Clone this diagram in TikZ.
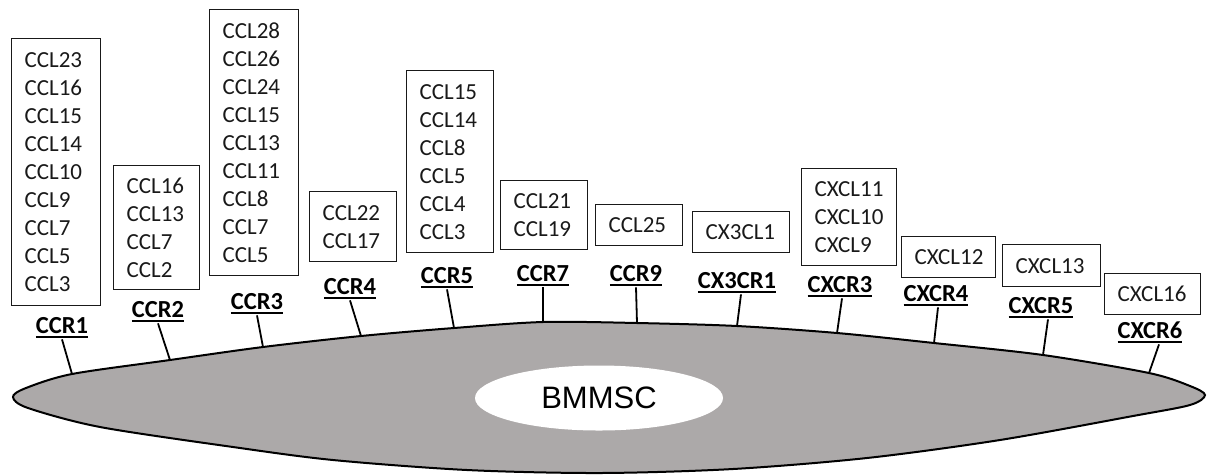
\documentclass[tikz,border=0pt]{standalone}
\usepackage{fontspec}
\setmainfont{Carlito}
\newfontfamily\cellfont{Liberation Sans}
\usetikzlibrary{shapes.geometric}
\definecolor{cellgray}{RGB}{172,169,169}
\newcommand{\recname}[1]{\vtop{\hbox{\bfseries #1}\kern3pt\hrule height 2pt}}
\begin{document}
\begin{tikzpicture}[x=1pt,y=-1pt]
\tikzstyle{ligand} = [draw=black!90, line width=1.3pt, anchor=north west, align=left, inner xsep=13pt, inner ysep=0pt, text=black!90, font=\fontsize{23}{28}\selectfont];
\tikzstyle{receptor} = [anchor=base, inner sep=1pt, font=\fontsize{24.5}{28}\selectfont];
\tikzstyle{stalk} = [line width=1.8pt];
\useasboundingbox (0,0) rectangle (1214,475);
% points on the membrane
\coordinate (m1) at (72,374);
\coordinate (m2) at (170,360);
\coordinate (m3) at (263,347);
\coordinate (m4) at (361,336);
\coordinate (m5) at (454,328);
\coordinate (m7) at (543,322);
\coordinate (m9) at (637,323);
\coordinate (mx3) at (737,326);
\coordinate (mx3b) at (837,333);
\coordinate (mx4) at (934,343);
\coordinate (mx5) at (1043,355);
\coordinate (mx6) at (1149,373);
% cell
\draw[line width=2pt, fill=cellgray] plot[smooth cycle, tension=0.5] coordinates {(13,397) (26,388) (m1) (m2) (m3) (m4) (m5) (m7) (m9) (mx3) (mx3b) (mx4) (mx5) (mx6) (1190,386) (1205,395) (1190,405) (1133,416) (1000,440) (867,458) (733,469) (600,473) (467,470) (333,460) (233,447) (100,427) (28,408)};
\node[ellipse, fill=white, inner sep=0pt, minimum width=248pt, minimum height=65pt, font=\cellfont\fontsize{31}{31}\selectfont] (core) at (599,398) {BMMSC};
% ligand boxes
\node[ligand, text width=63pt, minimum height=267pt] (ccr1lig) at (11,38) {CCL23\\CCL16\\CCL15\\CCL14\\CCL10\\CCL9\\CCL7\\CCL5\\CCL3};
\node[ligand, text width=60pt, minimum height=124pt] (ccr2lig) at (113,165) {CCL16\\CCL13\\CCL7\\CCL2};
\node[ligand, text width=63pt, minimum height=266pt] (ccr3lig) at (209,9) {CCL28\\CCL26\\CCL24\\CCL15\\CCL13\\CCL11\\CCL8\\CCL7\\CCL5};
\node[ligand, text width=61pt, minimum height=70pt] (ccr4lig) at (309,191) {CCL22\\CCL17};
\node[ligand, text width=61pt, minimum height=182pt] (ccr5lig) at (406,70) {CCL15\\CCL14\\CCL8\\CCL5\\CCL4\\CCL3};
\node[ligand, text width=61pt, minimum height=69pt] (ccr7lig) at (500,180) {CCL21\\CCL19};
\node[ligand, text width=61pt, minimum height=41pt] (ccr9lig) at (595,204) {CCL25};
\node[ligand, text width=71pt, minimum height=41pt] (cx3cr1lig) at (692,211) {CX3CL1};
\node[ligand, text width=69pt, minimum height=97pt] (cxcr3lig) at (801,168) {CXCL11\\CXCL10\\CXCL9};
\node[ligand, text width=68pt, minimum height=41pt] (cxcr4lig) at (901,236) {CXCL12};
\node[ligand, text width=72pt, minimum height=42pt] (cxcr5lig) at (1002,244) {CXCL13};
\node[ligand, text width=70pt, minimum height=41pt] (cxcr6lig) at (1104,273) {CXCL16};
% receptors
\node[receptor] (ccr1) at (62,333) {\recname{CCR1}};
\node[receptor] (ccr2) at (158,317) {\recname{CCR2}};
\node[receptor] (ccr3) at (257,309) {\recname{CCR3}};
\node[receptor] (ccr4) at (350,294) {\recname{CCR4}};
\node[receptor] (ccr5) at (447,283) {\recname{CCR5}};
\node[receptor] (ccr7) at (543,281) {\recname{CCR7}};
\node[receptor] (ccr9) at (636,281) {\recname{CCR9}};
\node[receptor] (cx3cr1) at (737,288) {\recname{CX3CR1}};
\node[receptor] (cxcr3) at (840,292) {\recname{CXCR3}};
\node[receptor] (cxcr4) at (936,301) {\recname{CXCR4}};
\node[receptor] (cxcr5) at (1041,313) {\recname{CXCR5}};
\node[receptor] (cxcr6) at (1150,338) {\recname{CXCR6}};
\draw[stalk] (ccr1.south) -- (m1);
\draw[stalk] (ccr2.south) -- (m2);
\draw[stalk] (ccr3.south) -- (m3);
\draw[stalk] (ccr4.south) -- (m4);
\draw[stalk] (ccr5.south) -- (m5);
\draw[stalk] (ccr7.south) -- (m7);
\draw[stalk] (ccr9.south) -- (m9);
\draw[stalk] ([xshift=4pt]cx3cr1.south) -- (mx3);
\draw[stalk] ([xshift=2pt]cxcr3.south) -- (mx3b);
\draw[stalk] ([xshift=2pt]cxcr4.south) -- (mx4);
\draw[stalk] ([xshift=7pt]cxcr5.south) -- (mx5);
\draw[stalk] ([xshift=9pt]cxcr6.south) -- (mx6);
\end{tikzpicture}
\end{document}
